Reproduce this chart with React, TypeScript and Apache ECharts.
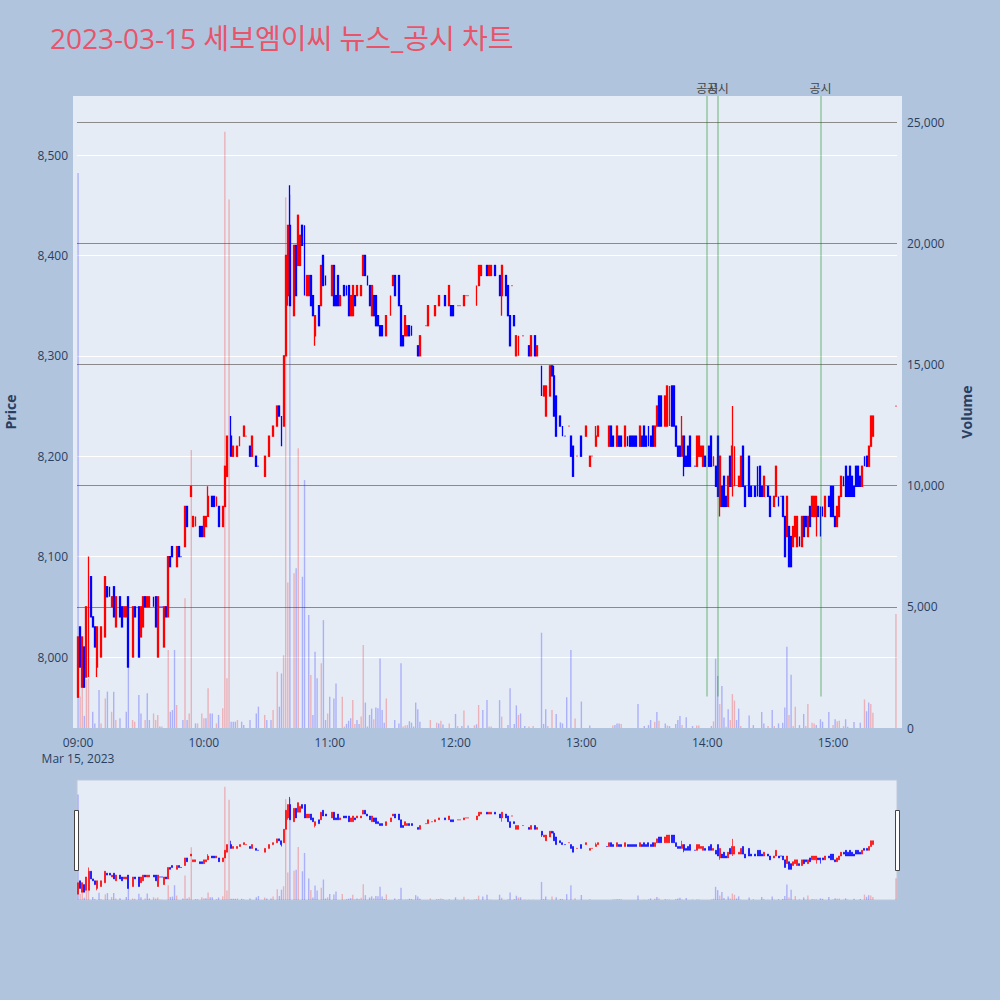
import React, { useEffect, useRef } from "react";
import * as echarts from "echarts";

const TITLE = "2023-03-15 세보엠이씨 뉴스_공시 차트";
const DATE_LABEL = "Mar 15, 2023";
const DISCLOSURE_TIMES = ["14:00", "14:05", "14:54"];
const DISCLOSURE_LABEL = "공시";
const START_MINUTE = 9 * 60;
const MINUTE_COUNT = 391; // 09:00 .. 15:30

// candles: [minute offset from 09:00, open, close, low, high, (flat colour 1=red 0=blue)]
const c0900 = [
  [0, 7960, 8020, 7960, 8020], [1, 8030, 7990, 7990, 8030], [2, 7970, 8020, 7970, 8020],
  [3, 8010, 7970, 7970, 8010], [4, 7980, 8050, 7980, 8050], [5, 7980, 8080, 7980, 8100],
  [6, 8080, 8040, 8040, 8080], [7, 8040, 8030, 8030, 8040], [8, 8030, 8010, 8010, 8030],
  [9, 7990, 8030, 7980, 8030], [11, 8000, 8030, 8000, 8030], [13, 8020, 8080, 8020, 8080],
  [14, 8070, 8060, 8060, 8070], [15, 8070, 8060, 8060, 8070], [16, 8050, 8060, 8050, 8060],
  [17, 8070, 8040, 8040, 8070], [18, 8030, 8060, 8030, 8060], [20, 8060, 8040, 8040, 8060],
  [21, 8050, 8030, 8030, 8050], [22, 8040, 8050, 8040, 8050], [23, 8040, 8050, 8040, 8050],
  [24, 8060, 7990, 7990, 8060], [26, 8000, 8050, 8000, 8050], [27, 8050, 8040, 8040, 8050],
  [29, 8050, 8000, 8000, 8050], [30, 8020, 8050, 8020, 8050], [31, 8030, 8060, 8030, 8060],
  [32, 8060, 8050, 8050, 8060], [33, 8050, 8060, 8050, 8060], [34, 8050, 8060, 8050, 8060],
  [36, 8060, 8050, 8050, 8060], [37, 8060, 8030, 8030, 8060], [38, 8000, 8060, 8000, 8060],
  [39, 8050, 8050, 8050, 8050, 0], [40, 8050, 8050, 8050, 8050, 0], [41, 8010, 8050, 8010, 8050],
  [42, 8050, 8040, 8040, 8050], [43, 8040, 8100, 8040, 8100], [44, 8100, 8090, 8090, 8100],
  [45, 8110, 8100, 8100, 8110], [47, 8090, 8110, 8090, 8110], [48, 8110, 8100, 8100, 8110],
  [49, 8100, 8100, 8100, 8100, 0], [51, 8110, 8150, 8110, 8150], [52, 8150, 8130, 8130, 8150],
  [54, 8160, 8170, 8160, 8170], [55, 8130, 8140, 8130, 8140], [56, 8130, 8140, 8130, 8140],
  [58, 8130, 8120, 8120, 8130], [59, 8130, 8120, 8120, 8130],
];
const c1000 = [
  [60, 8120, 8140, 8120, 8140], [61, 8130, 8140, 8130, 8140], [62, 8140, 8160, 8140, 8170],
  [64, 8160, 8150, 8150, 8160], [65, 8160, 8150, 8150, 8160], [66, 8150, 8160, 8150, 8160],
  [67, 8150, 8130, 8130, 8150], [69, 8130, 8150, 8130, 8150], [70, 8150, 8190, 8150, 8190],
  [71, 8180, 8220, 8180, 8220], [73, 8220, 8200, 8200, 8240], [74, 8200, 8210, 8200, 8210],
  [76, 8200, 8210, 8200, 8210], [77, 8210, 8220, 8210, 8220], [79, 8220, 8230, 8220, 8230],
  [80, 8220, 8220, 8220, 8220, 1], [82, 8210, 8200, 8200, 8210], [83, 8200, 8220, 8200, 8220],
  [85, 8200, 8190, 8190, 8200], [86, 8190, 8190, 8190, 8190, 0], [89, 8180, 8200, 8180, 8200],
  [91, 8200, 8220, 8200, 8220], [93, 8220, 8230, 8220, 8230], [95, 8230, 8250, 8230, 8250],
  [96, 8250, 8240, 8240, 8250], [97, 8240, 8220, 8210, 8240], [98, 8230, 8300, 8230, 8300],
  [99, 8300, 8400, 8300, 8400], [100, 8360, 8430, 8350, 8430], [101, 8430, 8350, 8350, 8470],
  [103, 8340, 8410, 8340, 8410], [104, 8410, 8360, 8360, 8410], [105, 8390, 8440, 8390, 8440],
  [106, 8390, 8420, 8390, 8420], [107, 8430, 8410, 8410, 8430], [108, 8430, 8360, 8360, 8430],
  [109, 8360, 8380, 8360, 8380], [110, 8360, 8380, 8360, 8380], [111, 8380, 8350, 8350, 8380],
  [112, 8360, 8340, 8340, 8360], [113, 8320, 8340, 8310, 8340], [115, 8350, 8330, 8330, 8350],
  [116, 8350, 8390, 8350, 8390], [117, 8400, 8370, 8370, 8400], [118, 8380, 8370, 8370, 8380],
];
const c1100 = [
  [121, 8360, 8390, 8360, 8390], [122, 8390, 8350, 8350, 8390], [123, 8360, 8350, 8350, 8360],
  [124, 8380, 8350, 8350, 8380], [125, 8350, 8360, 8350, 8360], [127, 8370, 8360, 8360, 8370],
  [128, 8370, 8360, 8360, 8370], [129, 8370, 8340, 8340, 8370], [130, 8340, 8360, 8340, 8360],
  [131, 8340, 8370, 8340, 8370], [132, 8360, 8350, 8350, 8360], [133, 8360, 8370, 8360, 8370],
  [135, 8360, 8370, 8360, 8370], [136, 8380, 8400, 8380, 8400], [137, 8400, 8380, 8380, 8400],
  [138, 8380, 8370, 8370, 8380], [139, 8370, 8350, 8350, 8370], [140, 8340, 8370, 8340, 8370],
  [141, 8360, 8340, 8340, 8360], [142, 8360, 8330, 8330, 8360], [143, 8340, 8330, 8330, 8340],
  [144, 8330, 8320, 8320, 8330], [145, 8330, 8320, 8320, 8330], [147, 8320, 8340, 8320, 8340],
  [149, 8340, 8360, 8340, 8360], [150, 8370, 8380, 8370, 8380], [151, 8380, 8360, 8360, 8380],
  [153, 8380, 8350, 8350, 8380], [154, 8350, 8310, 8310, 8350], [155, 8320, 8310, 8310, 8320],
  [156, 8320, 8340, 8320, 8340], [157, 8320, 8330, 8320, 8330], [158, 8330, 8320, 8320, 8330],
  [159, 8330, 8320, 8320, 8330], [162, 8310, 8300, 8300, 8310], [163, 8300, 8320, 8300, 8320],
  [166, 8330, 8330, 8330, 8330, 1], [167, 8330, 8350, 8330, 8350], [169, 8340, 8340, 8340, 8340, 1],
  [170, 8340, 8350, 8340, 8350], [172, 8350, 8360, 8350, 8360], [175, 8360, 8350, 8350, 8360],
  [177, 8350, 8370, 8350, 8370], [178, 8350, 8340, 8340, 8350], [179, 8350, 8340, 8340, 8350],
];
const c1200 = [
  [181, 8350, 8350, 8350, 8350, 1], [182, 8350, 8350, 8350, 8350, 1], [184, 8350, 8360, 8350, 8360],
  [185, 8360, 8360, 8360, 8360, 1], [186, 8360, 8360, 8360, 8360, 1], [190, 8350, 8370, 8350, 8370],
  [191, 8370, 8390, 8370, 8390], [192, 8380, 8390, 8380, 8390], [195, 8390, 8380, 8380, 8390],
  [196, 8380, 8390, 8380, 8390], [197, 8380, 8390, 8380, 8390], [199, 8390, 8380, 8380, 8390],
  [201, 8380, 8360, 8360, 8380], [202, 8360, 8390, 8340, 8390], [204, 8380, 8360, 8360, 8380],
  [205, 8370, 8340, 8340, 8370], [206, 8340, 8310, 8310, 8340], [207, 8370, 8370, 8370, 8370, 1],
  [208, 8340, 8330, 8330, 8340], [209, 8300, 8320, 8300, 8320], [210, 8300, 8320, 8300, 8320],
  [212, 8320, 8320, 8320, 8320, 1], [215, 8310, 8300, 8300, 8310], [216, 8300, 8320, 8300, 8320],
  [218, 8320, 8300, 8300, 8320], [219, 8300, 8310, 8300, 8310], [221, 8290, 8270, 8260, 8290],
  [222, 8260, 8270, 8260, 8270], [223, 8240, 8270, 8240, 8270], [225, 8260, 8290, 8260, 8290],
  [226, 8290, 8280, 8280, 8290], [227, 8280, 8240, 8240, 8290], [228, 8260, 8220, 8220, 8260],
  [230, 8240, 8230, 8230, 8240], [231, 8230, 8220, 8220, 8230], [232, 8220, 8220, 8220, 8220, 0],
  [234, 8230, 8230, 8230, 8230, 1], [235, 8220, 8200, 8200, 8220], [236, 8210, 8180, 8180, 8210],
  [238, 8200, 8200, 8200, 8200, 1],
];
const c1300 = [
  [240, 8220, 8200, 8200, 8220], [242, 8220, 8230, 8220, 8230], [244, 8190, 8200, 8190, 8200],
  [245, 8200, 8200, 8200, 8200, 1], [247, 8210, 8220, 8210, 8230], [248, 8220, 8230, 8220, 8230],
  [252, 8210, 8210, 8210, 8210, 0], [253, 8210, 8230, 8210, 8230], [254, 8230, 8210, 8210, 8230],
  [255, 8220, 8210, 8210, 8220], [257, 8210, 8230, 8210, 8230], [258, 8220, 8210, 8210, 8220],
  [259, 8220, 8210, 8210, 8220], [261, 8210, 8230, 8210, 8230], [262, 8220, 8210, 8210, 8220],
  [263, 8220, 8210, 8210, 8220], [264, 8220, 8210, 8210, 8220], [265, 8220, 8210, 8210, 8220],
  [266, 8220, 8210, 8210, 8220], [268, 8210, 8230, 8210, 8230], [269, 8220, 8210, 8210, 8220],
  [270, 8230, 8210, 8210, 8230], [271, 8220, 8210, 8210, 8220], [272, 8230, 8210, 8210, 8230],
  [273, 8220, 8210, 8210, 8220], [274, 8230, 8210, 8210, 8230], [275, 8210, 8230, 8210, 8230],
  [276, 8230, 8250, 8230, 8250], [277, 8260, 8230, 8230, 8260], [278, 8260, 8230, 8230, 8260],
  [280, 8230, 8260, 8230, 8260], [281, 8230, 8270, 8230, 8270], [282, 8230, 8270, 8230, 8270],
  [283, 8270, 8230, 8230, 8270], [284, 8270, 8230, 8230, 8270], [285, 8230, 8210, 8210, 8230],
  [286, 8210, 8200, 8200, 8210], [287, 8210, 8200, 8200, 8210], [288, 8200, 8220, 8200, 8240],
  [289, 8220, 8190, 8180, 8220], [290, 8200, 8190, 8190, 8200], [291, 8210, 8190, 8190, 8210],
  [292, 8220, 8190, 8190, 8220], [294, 8190, 8190, 8190, 8190, 0], [295, 8190, 8220, 8190, 8220],
  [296, 8200, 8220, 8200, 8220], [297, 8200, 8210, 8200, 8210], [298, 8190, 8210, 8190, 8210],
  [299, 8200, 8190, 8190, 8200],
];
const c1400 = [
  [301, 8210, 8190, 8190, 8210], [302, 8220, 8190, 8190, 8220], [303, 8190, 8200, 8190, 8200],
  [304, 8190, 8170, 8170, 8190], [305, 8220, 8160, 8160, 8220], [306, 8150, 8200, 8140, 8200],
  [307, 8170, 8150, 8150, 8170], [308, 8180, 8150, 8150, 8180], [309, 8160, 8150, 8150, 8160],
  [310, 8150, 8180, 8150, 8180], [311, 8200, 8170, 8170, 8200], [312, 8170, 8210, 8160, 8250],
  [313, 8170, 8210, 8170, 8210], [315, 8170, 8180, 8170, 8180], [316, 8170, 8200, 8170, 8200],
  [317, 8210, 8170, 8170, 8210], [318, 8170, 8150, 8150, 8170], [320, 8200, 8160, 8160, 8200],
  [321, 8170, 8160, 8160, 8170], [323, 8170, 8160, 8160, 8170], [324, 8190, 8160, 8160, 8190],
  [325, 8190, 8160, 8160, 8190], [326, 8170, 8160, 8160, 8170], [327, 8160, 8180, 8160, 8180],
  [329, 8170, 8160, 8160, 8170], [330, 8160, 8140, 8140, 8160], [332, 8150, 8160, 8150, 8160],
  [333, 8160, 8190, 8160, 8190], [334, 8160, 8150, 8150, 8160], [335, 8160, 8160, 8160, 8160, 0],
  [336, 8160, 8140, 8140, 8160], [337, 8140, 8100, 8100, 8140], [338, 8120, 8160, 8120, 8160],
  [339, 8130, 8090, 8090, 8130], [340, 8120, 8090, 8090, 8120], [341, 8110, 8130, 8110, 8130],
  [342, 8120, 8140, 8120, 8140], [343, 8110, 8140, 8110, 8140], [344, 8120, 8110, 8110, 8120],
  [345, 8110, 8140, 8110, 8140], [346, 8140, 8120, 8120, 8140], [347, 8140, 8130, 8130, 8140],
  [348, 8120, 8140, 8120, 8140], [349, 8150, 8130, 8130, 8150], [350, 8140, 8160, 8140, 8160],
  [351, 8140, 8160, 8140, 8160], [352, 8140, 8160, 8120, 8160], [353, 8150, 8140, 8140, 8150],
  [354, 8150, 8140, 8120, 8150], [355, 8150, 8140, 8140, 8150], [356, 8140, 8160, 8140, 8160],
  [358, 8160, 8150, 8150, 8160], [359, 8170, 8140, 8140, 8170],
];
const c1500 = [
  [360, 8170, 8140, 8140, 8170], [361, 8140, 8130, 8130, 8140], [362, 8130, 8150, 8130, 8150],
  [363, 8140, 8160, 8140, 8160], [364, 8160, 8180, 8160, 8180], [365, 8180, 8170, 8170, 8180],
  [366, 8190, 8160, 8160, 8190], [367, 8180, 8160, 8160, 8180], [368, 8190, 8160, 8160, 8190],
  [369, 8180, 8160, 8160, 8180], [370, 8170, 8160, 8160, 8170], [371, 8190, 8170, 8170, 8190],
  [372, 8190, 8170, 8170, 8190], [373, 8180, 8170, 8170, 8180], [374, 8170, 8190, 8170, 8190],
  [375, 8200, 8190, 8190, 8200], [376, 8200, 8190, 8190, 8200], [377, 8190, 8210, 8190, 8210],
  [378, 8210, 8240, 8210, 8240], [379, 8220, 8240, 8220, 8240], [390, 8250, 8250, 8250, 8250, 1],
];

// volumes: [minute offset, volume, colour 1=red 0=blue]
const volAM = [
  [0, 22900, 0], [1, 1300, 1], [2, 2250, 1], [3, 500, 0], [4, 2000, 1], [5, 2050, 1], [7, 670, 0],
  [8, 190, 0], [10, 1570, 0], [11, 190, 1], [13, 1220, 1], [14, 1500, 0], [16, 670, 1], [17, 1500, 0],
  [18, 330, 1], [20, 400, 0], [23, 670, 0], [24, 2530, 0], [26, 330, 1], [27, 260, 1], [29, 1360, 0],
  [30, 600, 0], [32, 330, 1], [33, 1430, 0], [34, 330, 0], [36, 600, 1], [37, 330, 1], [38, 540, 1],
  [39, 60, 0], [40, 60, 1], [43, 3220, 1], [44, 670, 0], [45, 740, 0], [46, 3220, 0], [47, 950, 1],
  [50, 330, 0], [51, 5350, 1], [52, 330, 0], [53, 600, 1], [54, 11470, 1], [56, 190, 0], [57, 190, 1],
  [59, 600, 1], [60, 400, 1], [61, 400, 0], [62, 1640, 1], [63, 600, 0], [64, 600, 0], [66, 190, 1],
  [67, 540, 0], [69, 810, 1], [70, 24600, 1], [71, 2050, 1], [72, 21800, 1], [73, 260, 0], [74, 260, 0],
  [75, 260, 0], [76, 330, 1], [78, 260, 0], [79, 120, 0], [82, 330, 0], [85, 600, 0], [86, 880, 0],
  [89, 540, 1], [90, 330, 0], [92, 330, 0], [93, 740, 1], [95, 2320, 1], [96, 880, 0], [97, 2250, 0],
  [98, 3000, 1], [99, 21900, 1], [100, 6000, 1], [101, 22000, 0], [103, 6380, 1], [104, 6590, 0],
  [105, 11540, 1], [107, 6240, 0], [108, 10230, 0], [110, 4660, 0], [111, 2190, 1], [112, 540, 0],
  [113, 3150, 0], [114, 2050, 0], [116, 2670, 1], [117, 4450, 0], [118, 330, 0], [119, 600, 1],
  [120, 1290, 0], [122, 1220, 0], [123, 1840, 0], [126, 1290, 1], [127, 60, 1], [128, 170, 0],
  [129, 300, 0], [130, 400, 0], [131, 1150, 1], [132, 170, 1], [133, 330, 0], [134, 170, 0],
  [135, 470, 1], [136, 3420, 1], [137, 1050, 0], [138, 60, 0], [139, 540, 0], [140, 800, 0],
  [141, 360, 1], [142, 850, 0], [143, 810, 0], [144, 2870, 0], [145, 740, 0], [146, 220, 0],
  [147, 1220, 1], [151, 330, 0], [153, 190, 0], [154, 2670, 0], [155, 60, 1], [156, 100, 1],
  [157, 120, 1], [158, 280, 0], [159, 220, 0], [160, 60, 0], [161, 1050, 0], [162, 770, 0],
  [163, 260, 0], [168, 330, 1], [171, 220, 1], [172, 190, 0], [173, 300, 1], [174, 140, 0],
  [177, 190, 1],
];
const volPM = [
  [180, 580, 0], [181, 80, 1], [183, 80, 0], [184, 720, 1], [186, 100, 0], [189, 110, 1], [190, 150, 0],
  [191, 950, 1], [193, 740, 0], [195, 1150, 0], [196, 60, 1], [197, 60, 1], [201, 1150, 0], [202, 470, 1],
  [205, 120, 0], [206, 1640, 0], [208, 170, 0], [209, 935, 0], [210, 540, 1], [211, 600, 0], [213, 80, 0],
  [215, 60, 1], [217, 80, 1], [221, 3930, 0], [222, 170, 0], [223, 770, 0], [224, 80, 1], [226, 740, 1],
  [228, 580, 0], [230, 230, 0], [231, 190, 0], [233, 1270, 0], [235, 3220, 0], [237, 390, 1],
  [240, 1090, 0], [244, 100, 0], [255, 100, 1], [256, 120, 0], [257, 190, 0], [258, 190, 0],
  [259, 165, 1], [267, 990, 0], [270, 80, 0], [272, 120, 0], [273, 330, 0], [275, 260, 1], [276, 660, 0],
  [277, 300, 1], [280, 190, 0], [281, 100, 1], [282, 80, 0], [285, 165, 0], [286, 330, 0], [287, 500, 0],
  [288, 120, 1], [290, 440, 0], [293, 80, 0], [295, 100, 1], [296, 100, 1], [302, 80, 0], [303, 275, 1],
  [304, 2860, 0], [305, 2150, 0], [306, 990, 1], [307, 1730, 0], [308, 430, 0], [309, 55, 1],
  [310, 770, 0], [311, 330, 1], [312, 1400, 1], [313, 1130, 1], [314, 330, 0], [315, 800, 0],
  [316, 80, 1], [320, 520, 0], [322, 120, 0], [326, 660, 0], [327, 190, 0], [329, 80, 1], [331, 740, 0],
  [332, 80, 1], [334, 190, 0], [336, 220, 0], [337, 850, 0], [338, 3350, 0], [339, 540, 1],
  [340, 2200, 0], [341, 80, 1], [342, 880, 1], [344, 120, 0], [346, 580, 0], [347, 80, 1], [348, 990, 1],
  [350, 220, 1], [351, 190, 1], [352, 120, 0], [354, 360, 0], [355, 260, 0], [358, 660, 0], [360, 120, 1],
  [361, 360, 0], [362, 275, 1], [363, 300, 1], [365, 80, 1], [366, 360, 0], [367, 55, 0], [370, 250, 0],
  [373, 220, 0], [375, 1180, 1], [376, 690, 0], [377, 1050, 0], [378, 990, 1], [379, 630, 1],
  [390, 4700, 1],
];

const UP = "#ff0000";
const DOWN = "#0000ff";
const UP_VOL = "rgba(255,0,0,0.25)";
const DOWN_VOL = "rgba(0,0,255,0.25)";
const PLOT_BG = "#e5ecf6";
const FONT = '"Open Sans", "Noto Sans CJK KR", sans-serif';
const TEXT = "#2a3f5f";

const PRICE_MIN = 7929.3;
const PRICE_MAX = 8558.8;
const VOL_MAX = 26073;

const pad = (n: number) => String(n).padStart(2, "0");
const times = Array.from({ length: MINUTE_COUNT }, (_, i) => {
  const t = START_MINUTE + i;
  return `${pad(Math.floor(t / 60))}:${pad(t % 60)}`;
});

function buildCandles(bw: number) {
  const arr: any[] = times.map(() => ["-", "-", "-", "-"]);
  [...c0900, ...c1000, ...c1100, ...c1200, ...c1300, ...c1400, ...c1500].forEach((r) => {
    const [m, o, c, l, h, flat] = r as number[];
    const up = o === c ? flat !== 0 : c > o;
    const col = up ? UP : DOWN;
    arr[m] = {
      value: [o, c, l, h],
      itemStyle: { color: col, color0: col, borderColor: col, borderColor0: col, borderColorDoji: col, borderWidth: bw },
    };
  });
  return arr;
}
function buildVolumes() {
  const arr: any[] = times.map(() => "-");
  [...volAM, ...volPM].forEach(([m, v, d]) => {
    arr[m] = { value: v, itemStyle: { color: d ? UP_VOL : DOWN_VOL } };
  });
  return arr;
}

export default function App() {
  const ref = useRef<HTMLDivElement>(null);
  useEffect(() => {
    const chart = echarts.init(ref.current!, null, { renderer: "svg" });
    const volData = buildVolumes();
    const lineLow = PRICE_MIN + 0.05 * (PRICE_MAX - PRICE_MIN);
    const option: any = {
      animation: false,
      backgroundColor: "#b0c4de",
      title: {
        text: TITLE,
        left: 50,
        top: 24,
        padding: 0,
        textStyle: { color: "#e8546a", fontSize: 28, fontWeight: "normal", fontFamily: FONT },
      },
      grid: [
        { left: 77, top: 96, width: 820, height: 632, containLabel: false, outerBoundsMode: "none" },
        { left: 77, top: 780, width: 820, height: 120, containLabel: false, outerBoundsMode: "none" },
      ],
      xAxis: [
        {
          type: "category",
          gridIndex: 0,
          data: times,
          boundaryGap: true,
          axisLine: { show: false },
          axisTick: { show: false },
          splitLine: { show: false },
          axisLabel: {
            interval: (i: number) => i % 60 === 0,
            formatter: (v: string, i: number) => (i === 0 ? `${v}\n${DATE_LABEL}` : v),
            color: TEXT,
            fontSize: 12,
            fontFamily: FONT,
            margin: 6,
            lineHeight: 16,
          },
        },
        {
          type: "category",
          gridIndex: 1,
          data: times,
          boundaryGap: true,
          axisLine: { show: false },
          axisTick: { show: false },
          axisLabel: { show: false },
          splitLine: { show: false },
        },
      ],
      yAxis: [
        {
          type: "value",
          gridIndex: 0,
          position: "left",
          min: PRICE_MIN,
          max: PRICE_MAX,
          splitNumber: 6,
          axisLine: { show: false },
          axisTick: { show: false },
          axisLabel: {
            formatter: (v: number) => (Math.abs(v % 100) < 1e-6 ? v.toLocaleString("en-US") : ""),
            color: TEXT,
            fontSize: 12,
            fontFamily: FONT,
            margin: 9,
          },
          splitLine: { lineStyle: { color: "#ffffff", width: 1 }, showMinLine: false, showMaxLine: false },
          name: "Price",
          nameLocation: "middle",
          nameGap: 60,
          nameTextStyle: { fontWeight: "bold", fontSize: 14, color: TEXT, fontFamily: FONT },
        },
        {
          type: "value",
          gridIndex: 0,
          position: "right",
          min: 0,
          max: VOL_MAX,
          interval: 5000,
          axisLine: { show: false },
          axisTick: { show: false },
          axisLabel: {
            formatter: (v: number) => (v % 5000 === 0 ? v.toLocaleString("en-US") : ""),
            color: TEXT,
            fontSize: 12,
            fontFamily: FONT,
            margin: 10,
          },
          splitLine: { lineStyle: { color: "#8a8a8a", width: 1 }, showMinLine: false, showMaxLine: false },
          name: "Volume",
          nameLocation: "middle",
          nameGap: 62,
          nameTextStyle: { fontWeight: "bold", fontSize: 14, color: TEXT, fontFamily: FONT },
        },
        { type: "value", gridIndex: 1, min: PRICE_MIN, max: PRICE_MAX, show: false, splitLine: { show: false } },
        { type: "value", gridIndex: 1, min: 0, max: VOL_MAX, show: false, splitLine: { show: false } },
      ],
      graphic: [
        { type: "rect", z: -100, silent: true, shape: { x: 73, y: 96, width: 829, height: 632 }, style: { fill: PLOT_BG } },
        { type: "rect", z: -100, silent: true, shape: { x: 77, y: 780, width: 820, height: 120 }, style: { fill: PLOT_BG, stroke: "#bec8d9", lineWidth: 1 } },
        { type: "rect", z: 100, silent: true, shape: { x: 74.5, y: 810.5, width: 4, height: 60 }, style: { fill: "#ffffff", stroke: "#444444", lineWidth: 1 } },
        { type: "rect", z: 100, silent: true, shape: { x: 895.5, y: 810.5, width: 4, height: 60 }, style: { fill: "#ffffff", stroke: "#444444", lineWidth: 1 } },
      ],
      series: [
        {
          type: "bar",
          name: "Volume",
          xAxisIndex: 0,
          yAxisIndex: 1,
          data: volData,
          barWidth: 1.4,
          z: 1,
        },
        {
          type: "candlestick",
          name: "Price",
          xAxisIndex: 0,
          yAxisIndex: 0,
          data: buildCandles(1.3),
          barWidth: 1.4,
          large: false,
          progressive: 0,
          itemStyle: { color: UP, color0: DOWN, borderColor: UP, borderColor0: DOWN, borderWidth: 1.3 },
          z: 2,
          markLine: {
            silent: true,
            symbol: ["none", "none"],
            lineStyle: { color: "rgba(0,128,0,0.35)", width: 1.5, type: "solid" },
            label: { show: true, position: "end", formatter: DISCLOSURE_LABEL, color: "#444", fontSize: 12, fontFamily: FONT, distance: 2 },
            data: DISCLOSURE_TIMES.map((t) => [{ coord: [t, lineLow] }, { coord: [t, PRICE_MAX] }]),
          },
        },
        {
          type: "bar",
          xAxisIndex: 1,
          yAxisIndex: 3,
          data: volData,
          barWidth: 1.4,
          z: 1,
        },
        {
          type: "candlestick",
          xAxisIndex: 1,
          yAxisIndex: 2,
          data: buildCandles(0.7),
          barWidth: 1.5,
          large: false,
          progressive: 0,
          itemStyle: { color: UP, color0: DOWN, borderColor: UP, borderColor0: DOWN, borderWidth: 0.7 },
          z: 2,
        },
      ],
    };
    chart.setOption(option);
    return () => chart.dispose();
  }, []);
  return <div ref={ref} style={{ position: "fixed", left: 0, top: 0, width: 1000, height: 1000 }} />;
}
